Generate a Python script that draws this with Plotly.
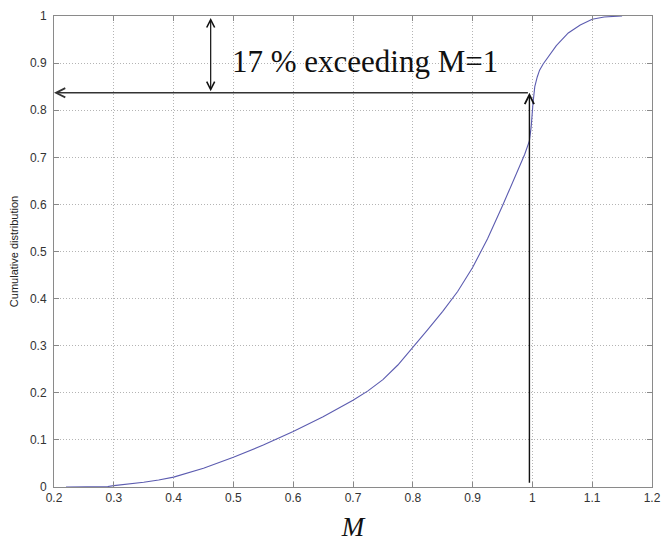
import plotly.graph_objects as go

# Data
M_vals = [0.22, 0.25, 0.28, 0.29, 0.30, 0.325, 0.35, 0.375, 0.40, 0.45, 0.50, 0.55, 0.60,
          0.65, 0.70, 0.725, 0.75, 0.775, 0.80, 0.825, 0.85, 0.875, 0.90, 0.925, 0.95,
          0.97, 0.987, 0.995, 0.998, 1.001, 1.004, 1.008, 1.012, 1.018, 1.025, 1.04,
          1.06, 1.08, 1.10, 1.12, 1.15]
cdf_vals = [0.0, 0.0, 0.0, 0.001, 0.003, 0.006, 0.010, 0.015, 0.021, 0.040, 0.063, 0.089,
            0.118, 0.149, 0.184, 0.204, 0.228, 0.259, 0.296, 0.334, 0.373, 0.415, 0.466,
            0.527, 0.597, 0.655, 0.706, 0.735, 0.765, 0.815, 0.850, 0.870, 0.885, 0.898,
            0.910, 0.937, 0.964, 0.981, 0.993, 0.998, 1.0]

x_ticks = [0.2, 0.3, 0.4, 0.5, 0.6, 0.7, 0.8, 0.9, 1.0, 1.1, 1.2]
x_ticktext = ["0.2", "0.3", "0.4", "0.5", "0.6", "0.7", "0.8", "0.9", "1", "1.1", "1.2"]
y_ticks = [0, 0.1, 0.2, 0.3, 0.4, 0.5, 0.6, 0.7, 0.8, 0.9, 1.0]
y_ticktext = ["0", "0.1", "0.2", "0.3", "0.4", "0.5", "0.6", "0.7", "0.8", "0.9", "1"]

threshold_M = 0.995
level = 0.837
arrow_x = 0.462
label_text = "17 % exceeding M=1"

fig = go.Figure()
fig.add_trace(go.Scatter(x=M_vals, y=cdf_vals, mode="lines",
                         line=dict(color="#5c5cb0", width=1.1),
                         hoverinfo="skip", showlegend=False))

axis_common = dict(showgrid=True, gridcolor="#b4b4b4", griddash="1px,2px", gridwidth=1,
                   ticks="inside", ticklen=5, tickcolor="#888888",
                   showline=True, linecolor="#8a8a8a", linewidth=1, mirror="ticks",
                   zeroline=False, automargin=False,
                   tickfont=dict(family="Liberation Sans, Arial", size=12, color="#333333"))

fig.update_xaxes(range=[0.2, 1.2], tickvals=x_ticks, ticktext=x_ticktext,
                 title=dict(text="<i>M</i>", font=dict(family="Liberation Serif, Times New Roman",
                                                        size=27, color="#111111"), standoff=12),
                 **axis_common)
fig.update_yaxes(range=[0, 1], tickvals=y_ticks, ticktext=y_ticktext,
                 ticklabelstandoff=4,
                 title=dict(text="Cumulative distribution",
                            font=dict(family="Liberation Sans, Arial", size=11, color="#222222"),
                            standoff=14),
                 **axis_common)

# Horizontal line with arrow pointing to the y axis
fig.add_annotation(x=0.2, y=level, ax=threshold_M, ay=level, xref="x", yref="y",
                   axref="x", ayref="y", showarrow=True, arrowhead=5, arrowsize=1.3,
                   arrowwidth=1.4, arrowcolor="#333333", text="")
# Vertical line from bottom up to the level with arrow
fig.add_annotation(x=threshold_M, y=level, ax=threshold_M, ay=0.006, xref="x", yref="y",
                   axref="x", ayref="y", showarrow=True, arrowhead=5, arrowsize=1.3,
                   arrowwidth=1.4, arrowcolor="#111111", text="")
# Double-headed vertical arrow showing exceedance
fig.add_annotation(x=arrow_x, y=0.996, ax=arrow_x, ay=level, xref="x", yref="y",
                   axref="x", ayref="y", showarrow=True, arrowhead=5, arrowsize=1.3,
                   startarrowhead=5, startarrowsize=1.3, arrowside="end+start",
                   arrowwidth=1.2, arrowcolor="#111111", text="")
# Label
fig.add_annotation(x=0.72, y=0.903, xref="x", yref="y", showarrow=False,
                   text=label_text,
                   font=dict(family="Liberation Serif, Times New Roman", size=31, color="#111111"))

# The page body adds an 8 px offset, so the figure is sized to fit the 670x545 window
fig.update_layout(width=662, height=537,
                  margin=dict(l=46, r=18, t=8, b=58),
                  paper_bgcolor="white", plot_bgcolor="white")

fig.write_html("out.html")
